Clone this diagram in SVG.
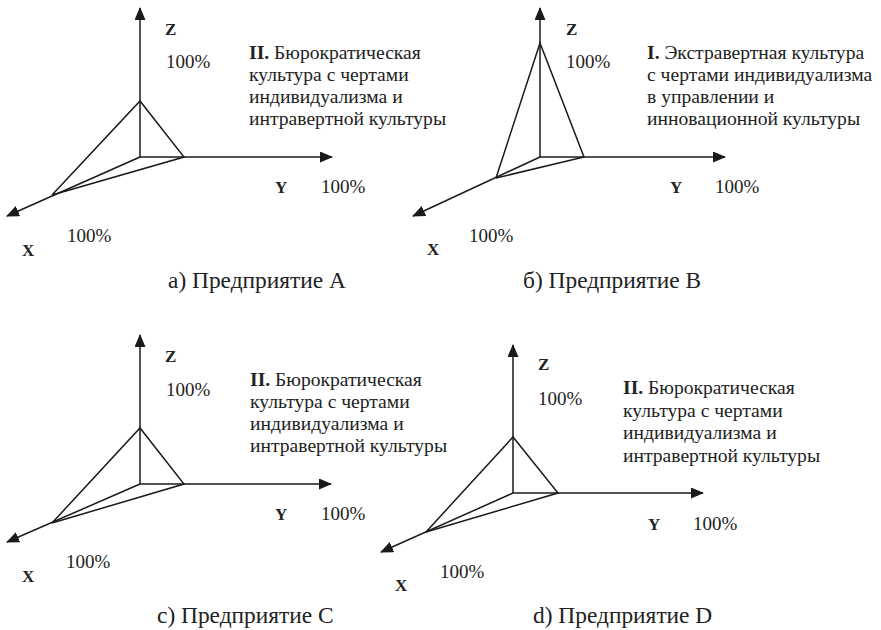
<svg xmlns="http://www.w3.org/2000/svg" width="881" height="630" viewBox="0 0 881 630">
<defs>
<marker id="arr" markerUnits="userSpaceOnUse" markerWidth="13" markerHeight="11" viewBox="0 0 13 11" refX="12" refY="5.5" orient="auto">
<path d="M0,0 L13,5.5 L0,11 Z" fill="#1a1a1a"/>
</marker>
</defs>
<style>
.ax{stroke:#1a1a1a;stroke-width:1.5;fill:none;marker-end:url(#arr)}
.tr{stroke:#1a1a1a;stroke-width:1.5;fill:none;stroke-linejoin:miter}
text{font-family:"Liberation Serif","Times New Roman",serif;fill:#222}
.lab{font-weight:bold;font-size:17px}
.pc{font-size:19px}
.ds{font-size:19.6px}
.ds tspan.b{font-weight:bold}
.cap{font-size:23.4px}
</style>

<g id="panel-a">
<g id="axes-a">
<line class="ax" x1="140" y1="157" x2="140" y2="8"/>
<line class="ax" x1="140" y1="157" x2="332" y2="157"/>
<line class="ax" x1="140" y1="157" x2="7" y2="216"/>
<polyline class="tr" points="52,195 140,101 184,157 52,195"/>
</g>
<text class="lab" x="165" y="35">Z</text>
<text class="pc" x="166" y="68">100%</text>
<text class="lab" x="275" y="193">Y</text>
<text class="pc" x="321" y="193">100%</text>
<text class="lab" x="22" y="256">X</text>
<text class="pc" x="67" y="242">100%</text>
<text class="ds" x="249" y="58.5"><tspan class="b">II.</tspan> Бюрократическая</text>
<text class="ds" x="249" y="80.5">культура с чертами</text>
<text class="ds" x="249" y="102.5">индивидуализма и</text>
<text class="ds" x="249" y="124.5">интравертной культуры</text>
<text class="cap" x="168" y="288">а) Предприятие А</text>
</g>

<g id="panel-b">
<g id="axes-b">
<line class="ax" x1="540" y1="157" x2="540" y2="8"/>
<line class="ax" x1="540" y1="157" x2="725" y2="157"/>
<line class="ax" x1="540" y1="157" x2="413" y2="216"/>
<polyline class="tr" points="496,178 540,43 584,157 496,178"/>
</g>
<text class="lab" x="566" y="35">Z</text>
<text class="pc" x="566" y="68">100%</text>
<text class="lab" x="670" y="193">Y</text>
<text class="pc" x="715" y="193">100%</text>
<text class="lab" x="427" y="255">X</text>
<text class="pc" x="469" y="242">100%</text>
<text class="ds" x="647" y="59"><tspan class="b">I.</tspan> Экстравертная культура</text>
<text class="ds" x="647" y="81">с чертами индивидуализма</text>
<text class="ds" x="647" y="103">в управлении и</text>
<text class="ds" x="647" y="125">инновационной культуры</text>
<text class="cap" x="523" y="288">б) Предприятие B</text>
</g>

<g id="panel-c">
<g id="axes-c">
<line class="ax" x1="140" y1="484" x2="140" y2="335"/>
<line class="ax" x1="140" y1="484" x2="331" y2="484"/>
<line class="ax" x1="140" y1="484" x2="7" y2="542"/>
<polyline class="tr" points="52,523 140,428 184,484 52,523"/>
</g>
<text class="lab" x="165" y="362">Z</text>
<text class="pc" x="166" y="396">100%</text>
<text class="lab" x="275" y="520">Y</text>
<text class="pc" x="321" y="520">100%</text>
<text class="lab" x="22" y="582">X</text>
<text class="pc" x="66" y="568">100%</text>
<text class="ds" x="250" y="386"><tspan class="b">II.</tspan> Бюрократическая</text>
<text class="ds" x="250" y="408">культура с чертами</text>
<text class="ds" x="250" y="430">индивидуализма и</text>
<text class="ds" x="250" y="452">интравертной культуры</text>
<text class="cap" x="157" y="623">с) Предприятие C</text>
</g>

<g id="panel-d">
<g id="axes-d">
<line class="ax" x1="513" y1="493" x2="513" y2="345"/>
<line class="ax" x1="513" y1="493" x2="703" y2="493"/>
<line class="ax" x1="513" y1="493" x2="381" y2="552"/>
<polyline class="tr" points="426,532 513,437 558,493 426,532"/>
</g>
<text class="lab" x="538" y="370">Z</text>
<text class="pc" x="538" y="405">100%</text>
<text class="lab" x="648" y="530">Y</text>
<text class="pc" x="693" y="530">100%</text>
<text class="lab" x="395" y="591">X</text>
<text class="pc" x="440" y="578">100%</text>
<text class="ds" x="623" y="394"><tspan class="b">II.</tspan> Бюрократическая</text>
<text class="ds" x="623" y="416.5">культура с чертами</text>
<text class="ds" x="623" y="439">индивидуализма и</text>
<text class="ds" x="623" y="461.5">интравертной культуры</text>
<text class="cap" x="533" y="623">d) Предприятие D</text>
</g>
</svg>
